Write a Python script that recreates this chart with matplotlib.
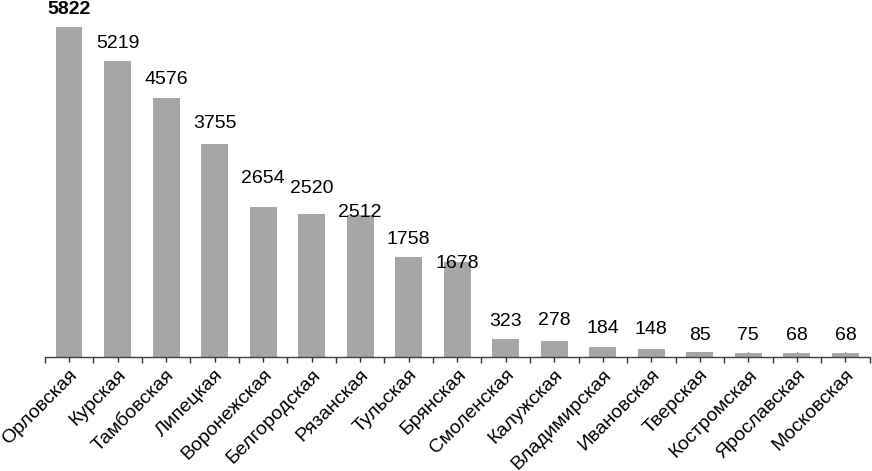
import matplotlib
matplotlib.use("Agg")
import matplotlib.pyplot as plt
import numpy as np

# regions and values
regions = ["Орловская", "Курская", "Тамбовская", "Липецкая", "Воронежская",
           "Белгородская", "Рязанская", "Тульская", "Брянская", "Смоленская",
           "Калужская", "Владимирская", "Ивановская", "Тверская", "Костромская",
           "Ярославская", "Московская"]
values = [5822, 5219, 4576, 3755, 2654, 2520, 2512, 1758, 1678, 323,
          278, 184, 148, 85, 75, 68, 68]

# gap between bar top and value label, in pixels (as seen in the original)
label_gap_px = [13, 13, 14, 16, 24, 21, -2, 13, -6, 13, 16, 14, 15, 12, 13, 13, 13]

plt.rcParams['font.family'] = ['Liberation Sans', 'DejaVu Sans']

fig = plt.figure(figsize=(8.72, 4.71), dpi=100)
ax = fig.add_axes([0.0513, 0.242, 0.946, 0.722])

x = np.arange(len(regions))
ax.bar(x, values, width=0.556, color="#a6a6a6", zorder=2)

for i, v in enumerate(values):
    # baseline of the digits sits label_gap_px above the bar
    ax.annotate(str(v), (x[i], v), xytext=(0, label_gap_px[i] * 0.72),
                textcoords="offset points", ha="center", va="baseline",
                fontsize=14, fontweight="bold" if i == 0 else "normal")

ax.set_xlim(-0.5, len(regions) - 0.5)
ax.set_ylim(0, 6000)

for s in ["top", "right", "left"]:
    ax.spines[s].set_visible(False)
ax.spines["bottom"].set_color("#404040")
ax.spines["bottom"].set_linewidth(1.0)
ax.set_yticks([])

ax.set_xticks(x)
ax.set_xticklabels(regions, rotation=45, ha="right", va="top",
                   rotation_mode="anchor", fontsize=14)
ax.set_xticks(np.arange(len(regions) + 1) - 0.5, minor=True)
ax.tick_params(axis="x", which="major", direction="inout", length=7.2,
               width=1, color="#303030", pad=3)
ax.tick_params(axis="x", which="minor", direction="out", length=4.3,
               width=1, color="#303030")

fig.savefig("out.png", dpi=100)
